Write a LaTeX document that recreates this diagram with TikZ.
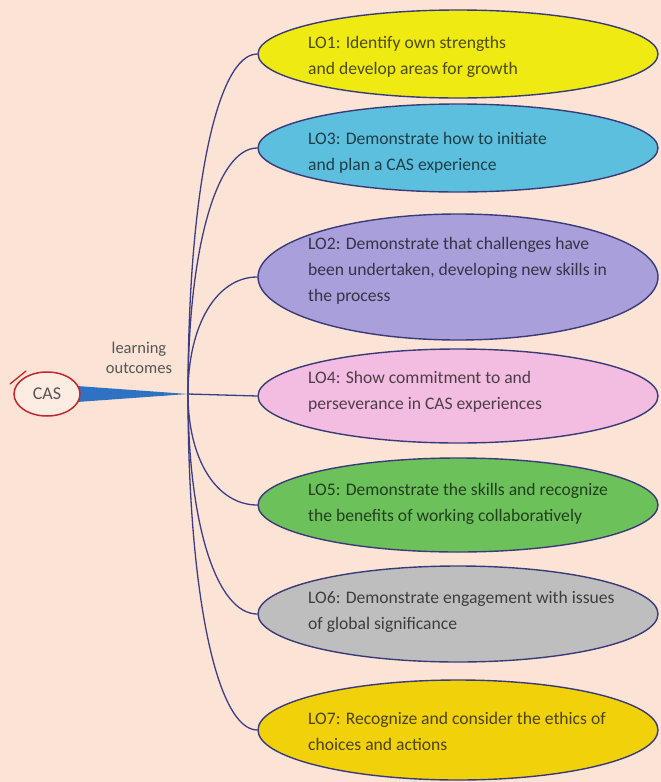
\documentclass[tikz,border=0pt]{standalone}
\usepackage{fontspec}
\setmainfont{Carlito}
\usetikzlibrary{shapes.geometric,calc}
\definecolor{bgc}{HTML}{FBE4D6}
\definecolor{cyel}{HTML}{EEEA12}
\definecolor{cblu}{HTML}{5CBFDD}
\definecolor{cpur}{HTML}{A89FDB}
\definecolor{cpnk}{HTML}{F2BDE0}
\definecolor{cgrn}{HTML}{6CC15A}
\definecolor{cgry}{HTML}{BEBEBE}
\definecolor{cgld}{HTML}{F0D10A}
\definecolor{outl}{HTML}{3B3A78}
\definecolor{connc}{HTML}{3F3C86}
\definecolor{wedgec}{HTML}{2F72C4}
\definecolor{casred}{HTML}{C4262E}
\definecolor{txtg}{HTML}{555555}
\tikzset{
  lobox/.style={ellipse, draw=outl, line width=1.4pt, minimum width=400pt, inner sep=0pt},
  lotext/.style={anchor=west, align=left, text=black, text opacity=0.68, font=\fontsize{17.6}{26}\selectfont, inner sep=0pt},
  conn/.style={draw=connc, line width=1.3pt},
}
\begin{document}
\begin{tikzpicture}[x=1pt,y=-1pt]
\fill[bgc] (0,0) rectangle (661,782);
\useasboundingbox (0,0) rectangle (661,782);
\coordinate (hub) at (188,394);
\coordinate (casc) at (47,394);
% ellipses
\node[lobox, fill=cyel, minimum height=88pt] (lo1) at (458,54) {};
\node[lobox, fill=cblu, minimum height=88pt] (lo3) at (458,148) {};
\node[lobox, fill=cpur, minimum height=126pt] (lo2) at (458,277) {};
\node[lobox, fill=cpnk, minimum height=94pt] (lo4) at (458,396) {};
\node[lobox, fill=cgrn, minimum height=94pt] (lo5) at (458,505) {};
\node[lobox, fill=cgry, minimum height=96pt] (lo6) at (458,614) {};
\node[lobox, fill=cgld, minimum height=100pt] (lo7) at (458,730) {};
% texts
\node[lotext] (t1) at (308,57) {LO1: Identify own strengths\\and develop areas for growth};
\node[lotext] (t3) at (308,153) {LO3: Demonstrate how to initiate\\and plan a CAS experience};
\node[lotext] (t2) at (308,271) {LO2: Demonstrate that challenges have\\been undertaken, developing new skills in\\the process};
\node[lotext] (t4) at (308,392) {LO4: Show commitment to and\\perseverance in CAS experiences};
\node[lotext] (t5) at (308,504) {LO5: Demonstrate the skills and recognize\\the benefits of working collaboratively};
\node[lotext] (t6) at (308,612) {LO6: Demonstrate engagement with issues\\of global significance};
\node[lotext] (t7) at (308,731) {LO7: Recognize and consider the ethics of\\choices and actions};
% connectors
\foreach \n in {lo1,lo3,lo2,lo5,lo6,lo7}{
  \draw[conn] (hub) .. controls ($(hub)!0.6!(hub|-\n.west)$) and ($(\n.west)+(-40,0)$) .. (\n.west);
}
\draw[conn] (hub) -- (lo4.west);
% wedge and CAS
\fill[wedgec] ($(casc)+(30,-8)$) -- (hub) -- ($(casc)+(30,8)$) -- cycle;
\node[ellipse, draw=casred, line width=1.5pt, fill=bgc!70!white, minimum width=66pt, minimum height=44pt, inner sep=0pt, text=txtg, font=\fontsize{18}{20}\selectfont] (cas) at (casc) {CAS};
\draw[casred, line width=1.3pt, line cap=round] (10,384) -- (26,371);
\node[text=txtg, align=center, font=\fontsize{16.5}{20}\selectfont] (lbl) at (139,358) {learning\\outcomes};
\end{tikzpicture}
\end{document}
